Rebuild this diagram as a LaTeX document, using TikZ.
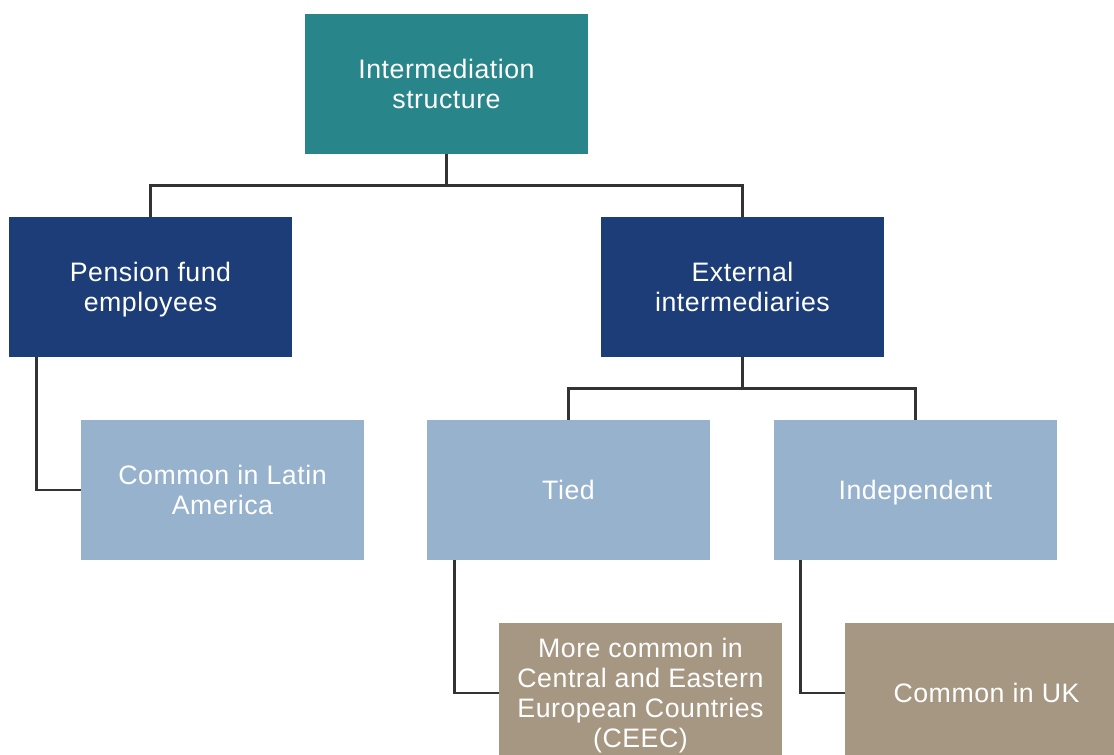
\documentclass[tikz,border=0pt]{standalone}
\usepackage{fontspec}
\setmainfont[LetterSpace=2]{Liberation Sans}
\usepackage{xcolor}
\usepackage{tikz}
\definecolor{rootcolor}{HTML}{28858A}
\definecolor{levelcolor}{HTML}{1C3D77}
\definecolor{typecolor}{HTML}{96B2CD}
\definecolor{notecolor}{HTML}{A69783}
\definecolor{linkcolor}{HTML}{333333}

\begin{document}
\begin{tikzpicture}[%
  box/.style={rectangle, minimum width=7.075cm, minimum height=3.5cm, inner sep=0pt, text depth=0pt, text=white, align=center, font=\fontsize{19pt}{21.4pt}\selectfont},%
  link/.style={draw=linkcolor, line width=1.8pt}]%
\useasboundingbox (0, 0) rectangle (27.85, -18.875);%
\clip (0, 0) rectangle (27.85, -18.875);%
\node[box, fill=rootcolor] (root) at (11.1625, -2.1) {Intermediation\\structure};%
\node[box, fill=levelcolor] (staff) at (3.7625, -7.175) {Pension fund\\employees};%
\node[box, fill=levelcolor] (external) at (18.5625, -7.175) {External\\intermediaries};%
\node[box, fill=typecolor] (latam) at (5.5625, -12.25) {Common in Latin\\America};%
\node[box, fill=typecolor] (tied) at (14.2125, -12.25) {Tied};%
\node[box, fill=typecolor] (indep) at (22.8875, -12.25) {Independent};%
\node[box, fill=notecolor] (ceec) at (16.0125, -17.325) {More common in\\Central and Eastern\\European Countries\\(CEEC)};%
\node[box, fill=notecolor] (uk) at (24.6625, -17.325) {Common in UK};%
\draw[link] (root.south) -- ++(0, -0.775) -| (staff.north);%
\draw[link] (root.south) -- ++(0, -0.775) -| (external.north);%
\draw[link] (external.south) -- ++(0, -0.775) -| (tied.north);%
\draw[link] (external.south) -- ++(0, -0.775) -| (indep.north);%
\draw[link] ([xshift=0.7cm]staff.south west) |- (latam.west);%
\draw[link] ([xshift=0.7cm]tied.south west) |- (ceec.west);%
\draw[link] ([xshift=0.675cm]indep.south west) |- (uk.west);%
\end{tikzpicture}
\end{document}
